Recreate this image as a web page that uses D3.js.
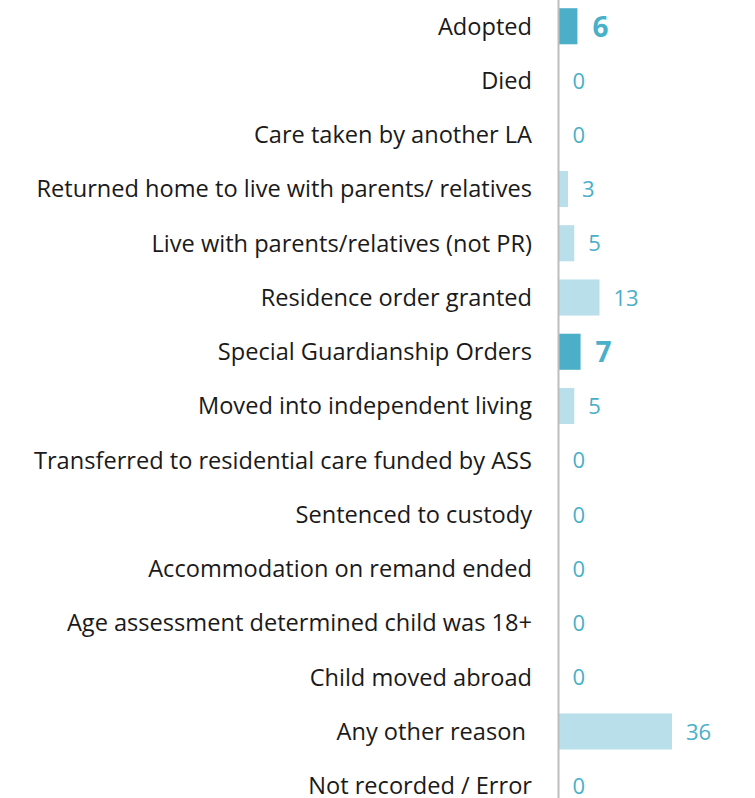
<!DOCTYPE html>
<html>
<head>
<meta charset="utf-8">
<script src="https://cdn.jsdelivr.net/npm/d3@7"></script>
<style>
  body { margin: 0; background: white; font-family: "Open Sans", "Noto Sans", sans-serif; }
</style>
</head>
<body>
<svg id="chart"></svg>
<script>
// data
let reasons = [
  "Adopted",
  "Died",
  "Care taken by another LA",
  "Returned home to live with parents/ relatives",
  "Live with parents/relatives (not PR)",
  "Residence order granted",
  "Special Guardianship Orders",
  "Moved into independent living",
  "Transferred to residential care funded by ASS",
  "Sentenced to custody",
  "Accommodation on remand ended",
  "Age assessment determined child was 18+",
  "Child moved abroad",
  "Any other reason\u00a0",
  "Not recorded / Error"
]
let counts = [6, 0, 0, 3, 5, 13, 7, 5, 0, 0, 0, 0, 0, 36, 0]
let highlighted = ["Adopted", "Special Guardianship Orders"]

let width = 755, height = 798
let axisX = 558.5

let svg = d3.select("#chart").attr("width", width).attr("height", height)

let y = d3.scaleBand()
  .domain(reasons)
  .range([-1, 813])
  .paddingInner(0.335)
  .paddingOuter(0.17)

let x = d3.scaleLinear().domain([0, 36]).range([axisX, axisX + 113.5])

let rows = reasons.map((r, i) => ({reason: r, count: counts[i], hi: highlighted.includes(r)}))

svg.selectAll("rect.bar").data(rows).enter().append("rect")
  .attr("class", "bar")
  .attr("x", x(0))
  .attr("y", d => y(d.reason))
  .attr("width", d => x(d.count) - x(0))
  .attr("height", y.bandwidth())
  .attr("fill", d => d.hi ? "#4cafc8" : "#b8dfea")

// axis line
svg.append("line")
  .attr("x1", axisX).attr("x2", axisX)
  .attr("y1", 0).attr("y2", height)
  .attr("stroke", "#bdbdbd").attr("stroke-width", 2)

svg.selectAll("text.label").data(rows).enter().append("text")
  .attr("class", "label")
  .attr("x", 532)
  .attr("y", d => y(d.reason) + y.bandwidth() / 2)
  .attr("dy", "0.35em")
  .attr("text-anchor", "end")
  .style("font-size", "23.6px")
  .style("white-space", "pre")
  .attr("fill", "#1a1a1a")
  .text(d => d.reason)

svg.selectAll("text.value").data(rows).enter().append("text")
  .attr("class", "value")
  .attr("x", d => x(d.count) + (d.hi ? 15 : 14))
  .attr("y", d => y(d.reason) + y.bandwidth() / 2)
  .attr("dy", "0.37em")
  .style("font-size", d => d.hi ? "28px" : "22px")
  .style("font-weight", d => d.hi ? "bold" : "normal")
  .attr("fill", "#4aafc8")
  .text(d => d.count)
</script>
</body>
</html>
